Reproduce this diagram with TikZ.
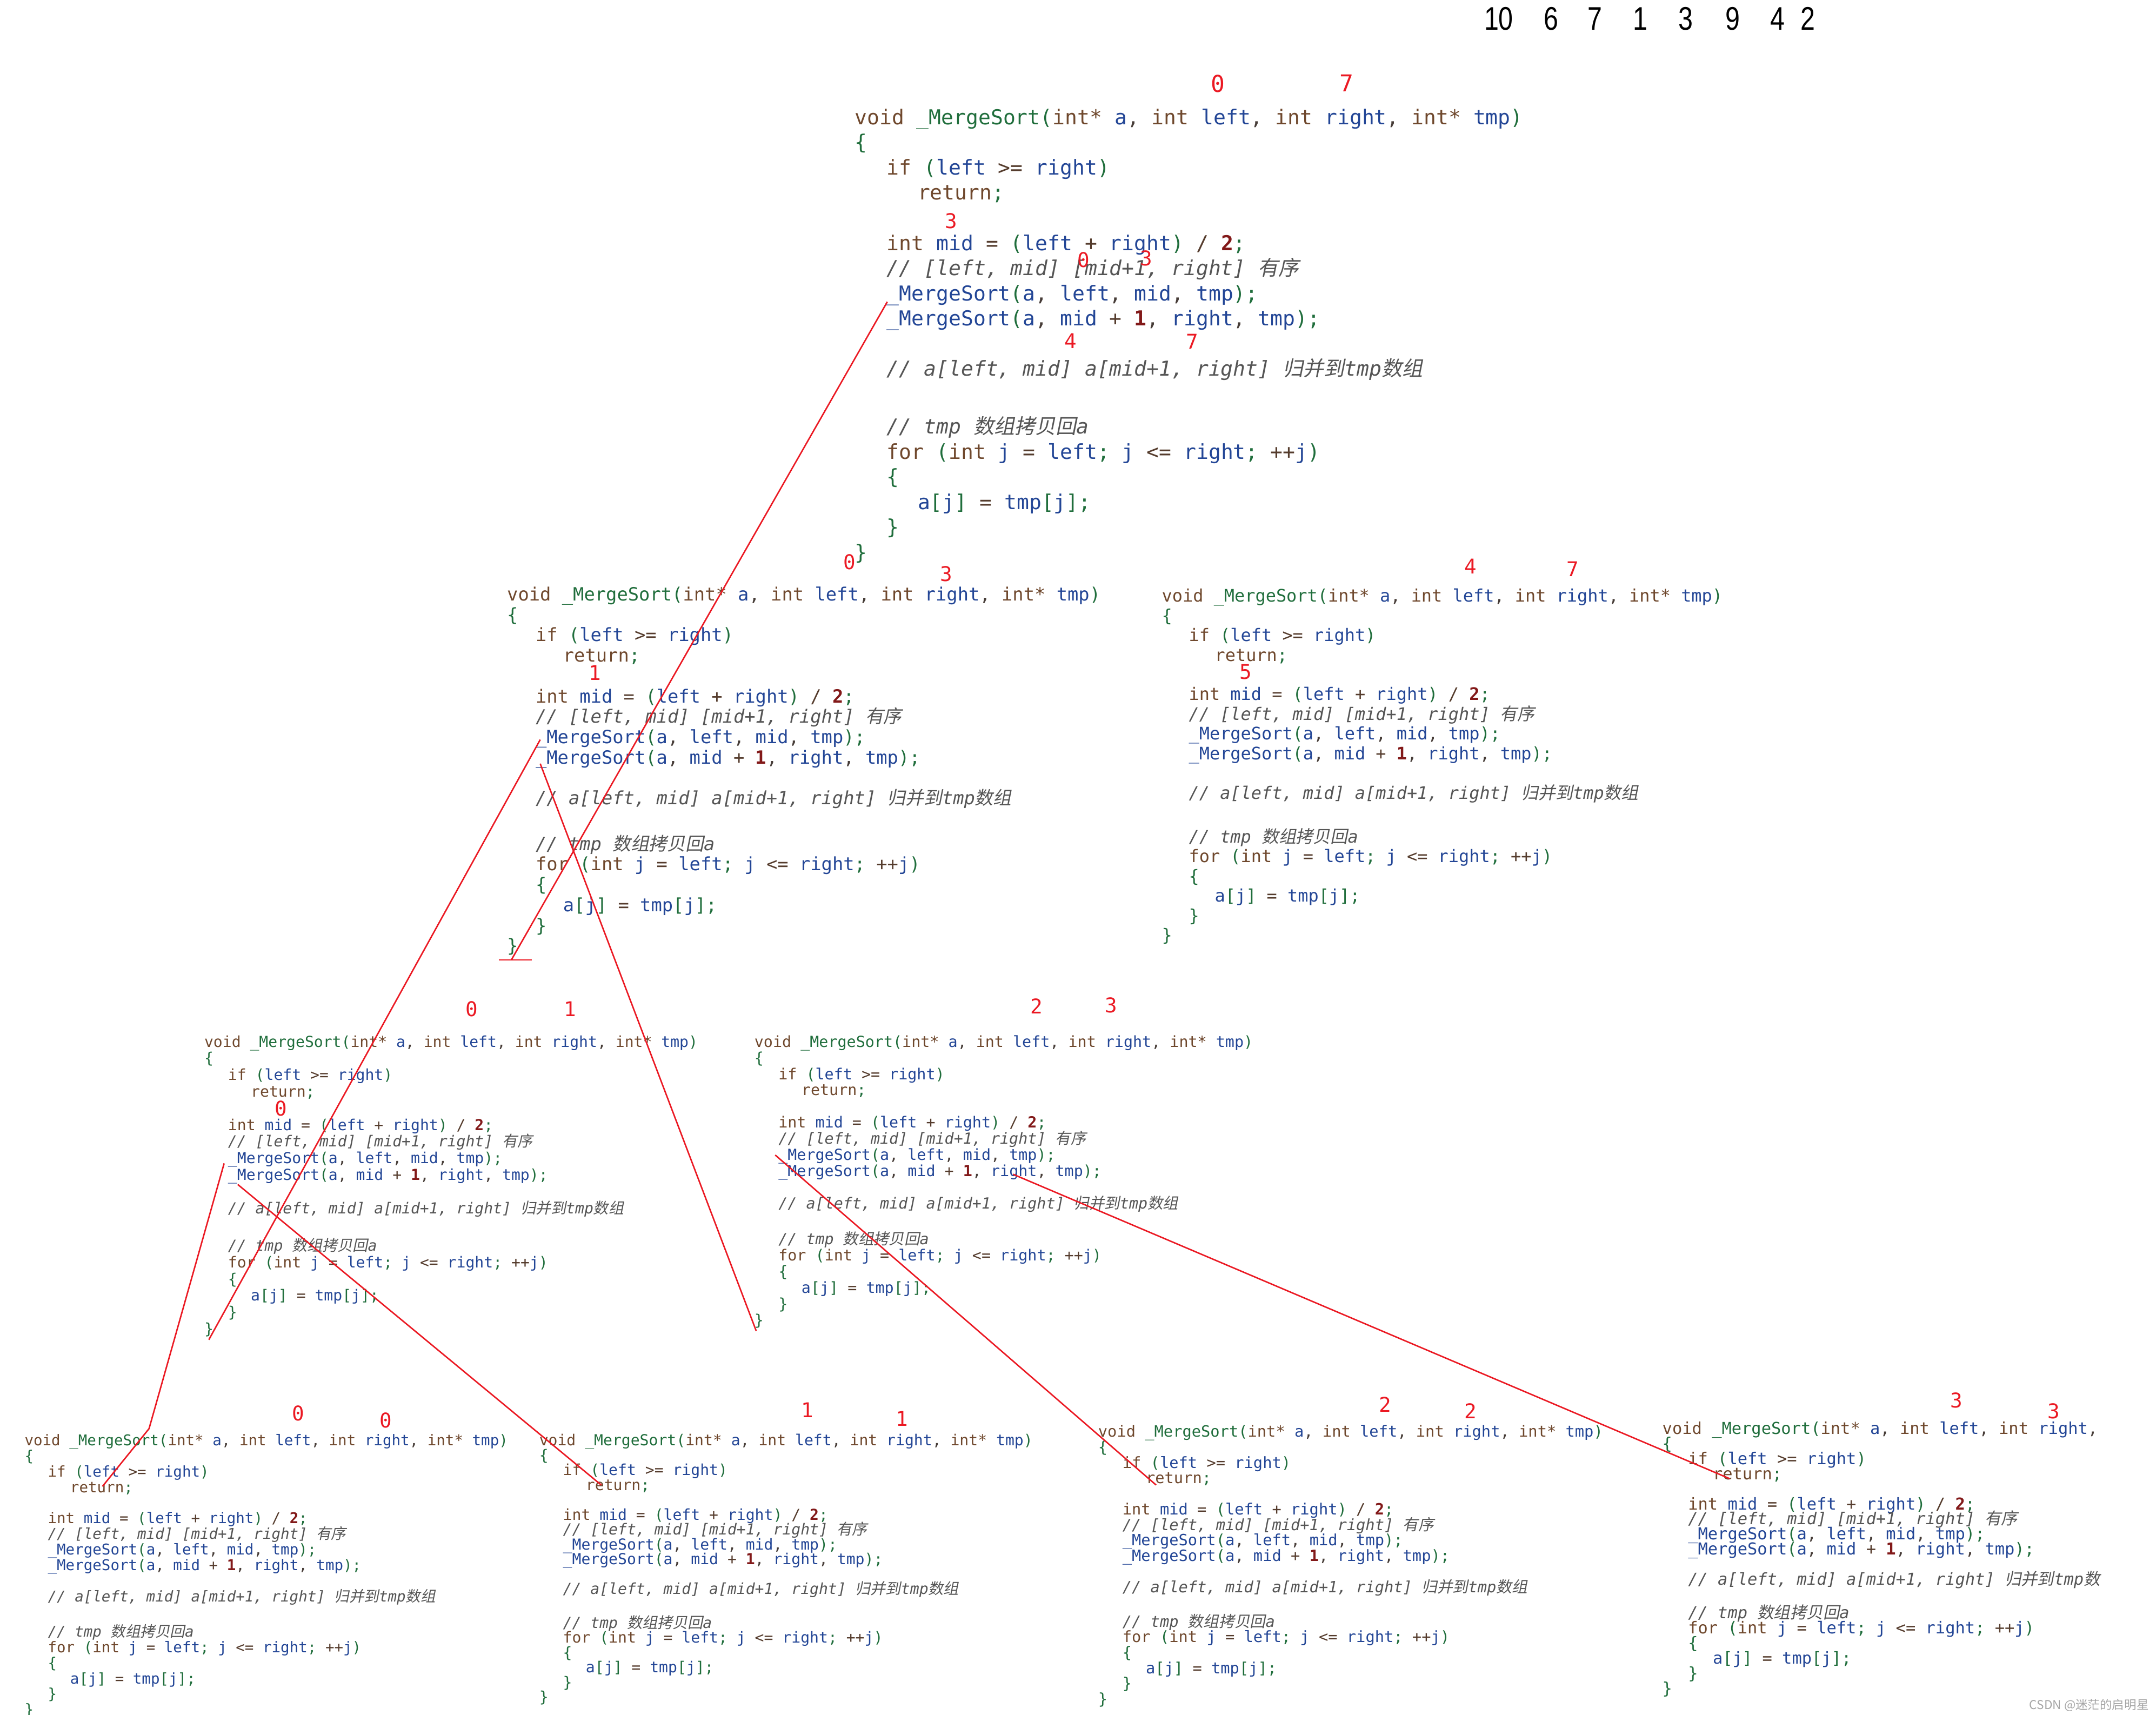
\documentclass[tikz,border=0pt]{standalone}
\usepackage{fontspec}
\usepackage{graphicx}
\setmonofont{DejaVu Sans Mono}
\newfontfamily\cjkfont[FakeSlant=0.2]{Noto Sans CJK SC}
\newfontfamily\cjkup{Noto Sans CJK SC}
\newfontfamily\numfont{Liberation Sans}
\definecolor{kwc}{RGB}{111,72,45}
\definecolor{grc}{RGB}{32,110,60}
\definecolor{idc}{RGB}{35,70,150}
\definecolor{pcc}{RGB}{70,60,55}
\definecolor{opc}{RGB}{85,60,45}
\definecolor{numc}{RGB}{130,25,25}
\definecolor{cmc}{RGB}{85,85,85}
\definecolor{redc}{RGB}{235,25,35}
\newcommand\ckw[1]{\textcolor{kwc}{#1}}
\newcommand\cgr[1]{\textcolor{grc}{#1}}
\newcommand\cid[1]{\textcolor{idc}{#1}}
\newcommand\cpc[1]{\textcolor{pcc}{#1}}
\newcommand\cop[1]{\textcolor{opc}{#1}}
\newcommand\cnum[1]{\textcolor{numc}{\textbf{#1}}}
\newcommand\ccm[1]{{\color{cmc}\itshape #1}}
\newcommand\cj[1]{{\cjkfont #1}}
\newcommand\cfont[1]{\ttfamily\fontsize{#1}{#1}\selectfont\frenchspacing}
% code lines
\newcommand\lnhead{\ckw{void} \cgr{\_MergeSort(}\ckw{int*} \cid{a}\cpc{,} \ckw{int} \cid{left}\cpc{,} \ckw{int} \cid{right}\cpc{,} \ckw{int*} \cid{tmp}\cgr{)}}
\newcommand\lnob{\cgr{\{}}
\newcommand\lncb{\cgr{\}}}
\newcommand\lnif{\ckw{if} \cgr{(}\cid{left} \cop{>=} \cid{right}\cgr{)}}
\newcommand\lnret{\ckw{return}\cgr{;}}
\newcommand\lnmid{\ckw{int} \cid{mid} \cop{=} \cgr{(}\cid{left} \cop{+} \cid{right}\cgr{)} \cop{/} \cnum{2}\cgr{;}}
\newcommand\lncmta{\ccm{// [left, mid] [mid+1, right] \cj{有序}}}
\newcommand\lncalla{\cid{\_MergeSort}\cgr{(}\cid{a}\cpc{,} \cid{left}\cpc{,} \cid{mid}\cpc{,} \cid{tmp}\cgr{);}}
\newcommand\lncallb{\cid{\_MergeSort}\cgr{(}\cid{a}\cpc{,} \cid{mid} \cop{+} \cnum{1}\cpc{,} \cid{right}\cpc{,} \cid{tmp}\cgr{);}}
\newcommand\lncmtb{\ccm{// a[left, mid] a[mid+1, right] \cj{归并到}tmp\cj{数组}}}
\newcommand\lncmtc{\ccm{// tmp \cj{数组拷贝回}a}}
\newcommand\lnfor{\ckw{for} \cgr{(}\ckw{int} \cid{j} \cop{=} \cid{left}\cgr{;} \cid{j} \cop{<=} \cid{right}\cgr{;} \cop{++}\cid{j}\cgr{)}}
\newcommand\lnasg{\cid{a}\cgr{[}\cid{j}\cgr{]} \cop{=} \cid{tmp}\cgr{[}\cid{j}\cgr{];}}
% #1 name, #2 x, #3 y (centre of header), #4 font size pt, #5 line height, #6 extra gap
\newcommand\codeblock[6]{%
\begin{scope}[shift={(#2,#3+0.5*#4)}]
\node[cl=#4] (#1-0) at (0,0) {\lnhead};
\node[cl=#4] (#1-1) at (0,#5) {\lnob};
\node[cl=#4] (#1-2) at (2.2*#4,2*#5) {\lnif};
\node[cl=#4] (#1-3) at (4.316*#4,3*#5) {\lnret};
\node[cl=#4] (#1-5) at (2.2*#4,5*#5) {\lnmid};
\node[cl=#4] (#1-6) at (2.2*#4,6*#5) {\lncmta};
\node[cl=#4] (#1-7) at (2.2*#4,7*#5) {\lncalla};
\node[cl=#4] (#1-8) at (2.2*#4,8*#5) {\lncallb};
\node[cl=#4] (#1-10) at (2.2*#4,10*#5) {\lncmtb};
\node[cl=#4] (#1-12) at (2.2*#4,12*#5+#6) {\lncmtc};
\node[cl=#4] (#1-13) at (2.2*#4,13*#5+#6) {\lnfor};
\node[cl=#4] (#1-14) at (2.2*#4,14*#5+#6) {\lnob};
\node[cl=#4] (#1-15) at (4.316*#4,15*#5+#6) {\lnasg};
\node[cl=#4] (#1-16) at (2.2*#4,16*#5+#6) {\lncb};
\node[cl=#4] (#1-17) at (0,17*#5+#6) {\lncb};
\end{scope}}
\tikzset{
  cl/.style={anchor=base west, inner sep=0pt, outer sep=0pt, font={\cfont{#1}}},
  rn/.style={text=redc, inner sep=0pt, font={\ttfamily\fontsize{10.5}{10.5}\selectfont}},
  rnb/.style={text=redc, inner sep=0pt, font={\ttfamily\fontsize{12}{12}\selectfont}},
  bn/.style={text=black, inner sep=0pt, font={\numfont\fontsize{16.9}{16.9}\selectfont}},
  rl/.style={draw=redc, line width=0.75pt},
}
\begin{document}
\begin{tikzpicture}[x=0.025cm, y=-0.025cm]
\fill[white] (0,0) rectangle (1568,1247);
\useasboundingbox (0,0) rectangle (1568,1247);

% top array
\node[bn] (v1) at (1090,13.5) {\scalebox{0.8}[1]{10}};
\node[bn] (v2) at (1128,13.5) {\scalebox{0.8}[1]{6}};
\node[bn] (v3) at (1160,13.5) {\scalebox{0.8}[1]{7}};
\node[bn] (v4) at (1193,13.5) {\scalebox{0.8}[1]{1}};
\node[bn] (v5) at (1226,13.5) {\scalebox{0.8}[1]{3}};
\node[bn] (v6) at (1260,13.5) {\scalebox{0.8}[1]{9}};
\node[bn] (v7) at (1293,13.5) {\scalebox{0.8}[1]{4}};
\node[bn] (v8) at (1315,13.5) {\scalebox{0.8}[1]{2}};

% code blocks
\codeblock{A}{621.6}{85.2}{10.63}{18.3}{5.4}
\codeblock{B}{368.8}{432.2}{9.44}{14.83}{3.5}
\codeblock{C}{845}{433.3}{8.92}{14.33}{3.3}
\codeblock{D}{148.6}{757.5}{7.85}{12.11}{3.0}
\codeblock{E}{548.7}{757.5}{7.93}{11.76}{2.6}
\codeblock{F}{17.9}{1047.5}{7.69}{11.34}{3.0}
\codeblock{G}{392.2}{1047.4}{7.85}{10.82}{2.8}
\codeblock{H}{798.7}{1041.1}{8.03}{11.29}{2.6}
\begin{scope}
\renewcommand\lnhead{\ckw{void} \cgr{\_MergeSort(}\ckw{int*} \cid{a}\cpc{,} \ckw{int} \cid{left}\cpc{,} \ckw{int} \cid{right}\cpc{,}}
\renewcommand\lncmtb{\ccm{// a[left, mid] a[mid+1, right] \cj{归并到}tmp\cj{数}}}
\clip (1100,950) rectangle (1531,1247);
\codeblock{I}{1209}{1038.9}{8.50}{10.95}{2.7}
\end{scope}

% red index numbers
\node[rnb] (ra1) at (885.8,61) {0};
\node[rnb] (ra2) at (979.5,60.3) {7};
\node[rn] (ra3) at (691.7,160.7) {3};
\node[rn] (ra4) at (788,189) {0};
\node[rn] (ra5) at (833.8,188) {3};
\node[rn] (ra6) at (778.8,247.9) {4};
\node[rn] (ra7) at (867,248.5) {7};
\node[rn] (rb1) at (618,408.8) {0};
\node[rn] (rb2) at (688.3,417.5) {3};
\node[rn] (rb3) at (432.6,489.4) {1};
\node[rn] (rc1) at (1069.6,412) {4};
\node[rn] (rc2) at (1143.7,414) {7};
\node[rn] (rc3) at (906,488.6) {5};
\node[rn] (rd1) at (343,733.9) {0};
\node[rn] (rd2) at (414.7,733.9) {1};
\node[rn] (rd3) at (204.3,806) {0};
\node[rn] (re1) at (753.8,731.7) {2};
\node[rn] (re2) at (808.2,730.9) {3};
\node[rn] (rf1) at (217,1028) {0};
\node[rn] (rf2) at (280.7,1033) {0};
\node[rn] (rg1) at (587,1025.6) {1};
\node[rn] (rg2) at (656,1031.6) {1};
\node[rn] (rh1) at (1007.5,1021.3) {2};
\node[rn] (rh2) at (1069.5,1026) {2};
\node[rn] (ri1) at (1423,1018.3) {3};
\node[rn] (ri2) at (1493.7,1026.2) {3};

% red connectors
\coordinate (p1) at (645.3,219.5);
\coordinate (p1e) at (371.9,698.1);
\coordinate (t1l) at (362.8,698.1);
\coordinate (t1r) at (386.8,698.1);
\coordinate (p2) at (392.9,537.9);
\coordinate (p2e) at (151.9,974.3);
\coordinate (p3) at (392.9,555.4);
\coordinate (p3e) at (550,968);
\coordinate (p4) at (163,846.1);
\coordinate (p4m) at (108.4,1039);
\coordinate (p4e) at (74.5,1081);
\coordinate (p5) at (172.9,861.4);
\coordinate (p5e) at (437.3,1080);
\coordinate (p6) at (563.8,840);
\coordinate (p6e) at (840.8,1080);
\coordinate (p7) at (736.8,854);
\coordinate (p7e) at (1258,1075.4);
\draw[rl] (p1) -- (p1e);
\draw[rl] (t1l) -- (t1r);
\draw[rl] (p2) -- (p2e);
\draw[rl] (p3) -- (p3e);
\draw[rl] (p4) -- (p4m) -- (p4e);
\draw[rl] (p5) -- (p5e);
\draw[rl] (p6) -- (p6e);
\draw[rl] (p7) -- (p7e);

% watermark
\node[anchor=east, inner sep=0pt, text={rgb,255:red,165;green,165;blue,165}, font={\cjkup\fontsize{6.3}{6.3}\selectfont}] (wm) at (1563,1240) {CSDN @迷茫的启明星};
\end{tikzpicture}
\end{document}
